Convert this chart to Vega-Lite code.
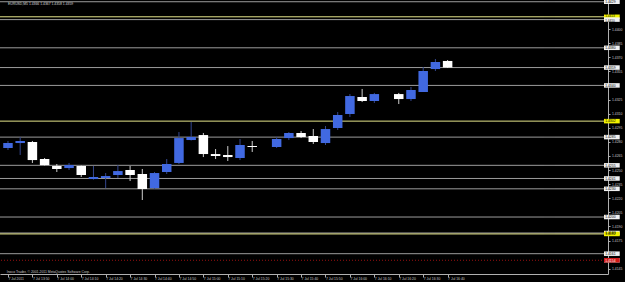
{
  "$schema": "https://vega.github.io/schema/vega-lite/v6.json",
  "width": 608,
  "height": 274,
  "autosize": "none",
  "padding": {"left": 0, "top": 0, "right": 17, "bottom": 8},
  "background": "#000000",
  "config": {"view": {"stroke": null}, "axis": {"grid": false}, "font": "Liberation Sans"},
  "resolve": {"axis": {"x": "independent", "y": "independent"}},
  "datasets": {
    "candles": [
      {"t": "2011-07-07 13:40", "o": 1.42734, "h": 1.42809, "l": 1.42713, "c": 1.42787},
      {"t": "2011-07-07 13:45", "o": 1.42787, "h": 1.42851, "l": 1.4266, "c": 1.42809},
      {"t": "2011-07-07 13:50", "o": 1.42798, "h": 1.42809, "l": 1.42575, "c": 1.42606},
      {"t": "2011-07-07 13:55", "o": 1.42617, "h": 1.42628, "l": 1.42548, "c": 1.42553},
      {"t": "2011-07-07 14:00", "o": 1.42543, "h": 1.42564, "l": 1.42479, "c": 1.42511},
      {"t": "2011-07-07 14:05", "o": 1.42521, "h": 1.42575, "l": 1.425, "c": 1.42553},
      {"t": "2011-07-07 14:10", "o": 1.42543, "h": 1.42548, "l": 1.42426, "c": 1.42447},
      {"t": "2011-07-07 14:15", "o": 1.42404, "h": 1.42543, "l": 1.42398, "c": 1.42426},
      {"t": "2011-07-07 14:20", "o": 1.42415, "h": 1.42468, "l": 1.42308, "c": 1.42436},
      {"t": "2011-07-07 14:25", "o": 1.42447, "h": 1.42553, "l": 1.42415, "c": 1.42489},
      {"t": "2011-07-07 14:30", "o": 1.425, "h": 1.42543, "l": 1.42383, "c": 1.42447},
      {"t": "2011-07-07 14:35", "o": 1.42458, "h": 1.42511, "l": 1.42181, "c": 1.42298},
      {"t": "2011-07-07 14:40", "o": 1.42308, "h": 1.42479, "l": 1.42298, "c": 1.42468},
      {"t": "2011-07-07 14:45", "o": 1.42479, "h": 1.42617, "l": 1.42458, "c": 1.42564},
      {"t": "2011-07-07 14:50", "o": 1.42575, "h": 1.42904, "l": 1.42564, "c": 1.4284},
      {"t": "2011-07-07 14:55", "o": 1.42819, "h": 1.43011, "l": 1.42814, "c": 1.42851},
      {"t": "2011-07-07 15:00", "o": 1.42872, "h": 1.42894, "l": 1.42638, "c": 1.4267},
      {"t": "2011-07-07 15:05", "o": 1.4267, "h": 1.42723, "l": 1.42617, "c": 1.42649},
      {"t": "2011-07-07 15:10", "o": 1.4266, "h": 1.42755, "l": 1.42596, "c": 1.42638},
      {"t": "2011-07-07 15:15", "o": 1.42628, "h": 1.4283, "l": 1.42606, "c": 1.42766},
      {"t": "2011-07-07 15:20", "o": 1.42755, "h": 1.42809, "l": 1.42692, "c": 1.42745},
      {"t": "2011-07-07 15:30", "o": 1.42745, "h": 1.42851, "l": 1.42734, "c": 1.4283},
      {"t": "2011-07-07 15:35", "o": 1.4284, "h": 1.42904, "l": 1.42819, "c": 1.42894},
      {"t": "2011-07-07 15:40", "o": 1.42894, "h": 1.42915, "l": 1.4284, "c": 1.42851},
      {"t": "2011-07-07 15:45", "o": 1.42862, "h": 1.42936, "l": 1.42777, "c": 1.42798},
      {"t": "2011-07-07 15:50", "o": 1.42787, "h": 1.42968, "l": 1.42766, "c": 1.42936},
      {"t": "2011-07-07 15:55", "o": 1.42947, "h": 1.43117, "l": 1.42926, "c": 1.43085},
      {"t": "2011-07-07 16:00", "o": 1.43096, "h": 1.43308, "l": 1.43064, "c": 1.43287},
      {"t": "2011-07-07 16:05", "o": 1.43277, "h": 1.43362, "l": 1.43223, "c": 1.43234},
      {"t": "2011-07-07 16:10", "o": 1.43234, "h": 1.4332, "l": 1.43213, "c": 1.43308},
      {"t": "2011-07-07 16:20", "o": 1.43308, "h": 1.4332, "l": 1.43202, "c": 1.43255},
      {"t": "2011-07-07 16:25", "o": 1.43255, "h": 1.43383, "l": 1.43234, "c": 1.43351},
      {"t": "2011-07-07 16:30", "o": 1.4333, "h": 1.43596, "l": 1.4333, "c": 1.43553},
      {"t": "2011-07-07 16:35", "o": 1.43574, "h": 1.43681, "l": 1.43553, "c": 1.43649},
      {"t": "2011-07-07 16:40", "o": 1.4366, "h": 1.4367, "l": 1.43585, "c": 1.4359}
    ],
    "levels": [
      {"price": 1.4429, "kind": "gray", "label": "1.4429"},
      {"price": 1.4413, "kind": "yellow", "label": "1.4413"},
      {"price": 1.4410, "kind": "gray", "label": "1.4410"},
      {"price": 1.4380, "kind": "gray", "label": "1.4380"},
      {"price": 1.4359, "kind": "gray", "label": "1.4359"},
      {"price": 1.4340, "kind": "gray", "label": "1.4340"},
      {"price": 1.4302, "kind": "yellow", "label": "1.4302"},
      {"price": 1.4285, "kind": "gray", "label": "1.4285"},
      {"price": 1.4255, "kind": "gray", "label": "1.4255"},
      {"price": 1.4241, "kind": "gray", "label": "1.4241"},
      {"price": 1.4230, "kind": "gray", "label": "1.4230"},
      {"price": 1.4200, "kind": "gray", "label": "1.4200"},
      {"price": 1.4183, "kind": "gray", "label": "1.4183"},
      {"price": 1.4182, "kind": "yellow", "label": "1.4182"},
      {"price": 1.4161, "kind": "gray", "label": "1.4161"},
      {"price": 1.4154, "kind": "red", "label": "1.4154"}
    ]
  },
  "layer": [
    {
      "data": {"name": "levels"},
      "mark": {"type": "rule", "strokeWidth": 1},
      "encoding": {
        "y": {"field": "price", "type": "quantitative", "axis": null},
        "color": {"field": "kind", "type": "nominal", "legend": null,
          "scale": {"domain": ["gray", "yellow", "red"], "range": ["#9c9c9c", "#e4e48a", "#9a1010"]}},
        "strokeDash": {"condition": {"test": "datum.kind == 'red'", "value": [1, 2]}, "value": [1, 0]}
      }
    },
    {
      "data": {"name": "candles"},
      "mark": {"type": "rule", "strokeWidth": 1},
      "encoding": {
        "x": {"field": "t", "type": "temporal",
          "scale": {"domain": [
            {"year": 2011, "month": 7, "date": 7, "hours": 13, "minutes": 38, "seconds": 47},
            {"year": 2011, "month": 7, "date": 7, "hours": 17, "minutes": 43, "seconds": 37}], "nice": false},
          "axis": {
            "title": null, "orient": "bottom",
            "values": [
              {"year": 2011, "month": 7, "date": 7, "hours": 13, "minutes": 40},
              {"year": 2011, "month": 7, "date": 7, "hours": 13, "minutes": 50},
              {"year": 2011, "month": 7, "date": 7, "hours": 14, "minutes": 0},
              {"year": 2011, "month": 7, "date": 7, "hours": 14, "minutes": 10},
              {"year": 2011, "month": 7, "date": 7, "hours": 14, "minutes": 20},
              {"year": 2011, "month": 7, "date": 7, "hours": 14, "minutes": 30},
              {"year": 2011, "month": 7, "date": 7, "hours": 14, "minutes": 40},
              {"year": 2011, "month": 7, "date": 7, "hours": 14, "minutes": 50},
              {"year": 2011, "month": 7, "date": 7, "hours": 15, "minutes": 0},
              {"year": 2011, "month": 7, "date": 7, "hours": 15, "minutes": 10},
              {"year": 2011, "month": 7, "date": 7, "hours": 15, "minutes": 20},
              {"year": 2011, "month": 7, "date": 7, "hours": 15, "minutes": 30},
              {"year": 2011, "month": 7, "date": 7, "hours": 15, "minutes": 40},
              {"year": 2011, "month": 7, "date": 7, "hours": 15, "minutes": 50},
              {"year": 2011, "month": 7, "date": 7, "hours": 16, "minutes": 0},
              {"year": 2011, "month": 7, "date": 7, "hours": 16, "minutes": 10},
              {"year": 2011, "month": 7, "date": 7, "hours": 16, "minutes": 20},
              {"year": 2011, "month": 7, "date": 7, "hours": 16, "minutes": 30},
              {"year": 2011, "month": 7, "date": 7, "hours": 16, "minutes": 40}
            ],
            "labelExpr": "timeFormat(datum.value, '%H:%M') == '13:40' ? '7 Jul 2011' : '7 Jul ' + timeFormat(datum.value, '%H:%M')",
            "labelAlign": "left", "labelBaseline": "top", "labelDx": 1, "labelPadding": -1,
            "labelFontSize": 3.4, "labelColor": "#c8c8c8", "labelOverlap": false, "labelBound": false, "labelFlush": false,
            "tickSize": 3, "tickColor": "#b0b0b0", "domainColor": "#b0b0b0", "domainWidth": 1
          }
        },
        "y": {"field": "l", "type": "quantitative",
          "scale": {"domain": [1.41394, 1.443085], "zero": false, "nice": false},
          "axis": {
            "title": null, "orient": "right",
            "values": [1.4145, 1.4175, 1.419, 1.4205, 1.422, 1.4235, 1.425, 1.4265, 1.428, 1.4295, 1.431, 1.4325, 1.4355, 1.437, 1.4385, 1.44],
            "format": ".4f", "labelFontSize": 3.4, "labelColor": "#c8c8c8", "labelPadding": 1.5,
            "labelOverlap": false, "labelBound": false, "labelFlush": false,
            "tickSize": 2, "tickColor": "#b0b0b0", "domainColor": "#b0b0b0", "domainWidth": 1
          }
        },
        "y2": {"field": "h"},
        "color": {"condition": {"test": "datum.c >= datum.o", "value": "#34478f"}, "value": "#cfcfcf"}
      }
    },
    {
      "data": {"name": "candles"},
      "mark": {"type": "bar", "width": 9.5},
      "encoding": {
        "x": {"field": "t", "type": "temporal", "axis": null},
        "y": {"field": "o", "type": "quantitative", "axis": null},
        "y2": {"field": "c"},
        "color": {"condition": {"test": "datum.c >= datum.o", "value": "#4169e1"}, "value": "#ffffff"}
      }
    },
    {
      "data": {"name": "levels"},
      "mark": {"type": "rule", "strokeWidth": 4.5, "strokeCap": "butt"},
      "encoding": {
        "x": {"datum": {"year": 2011, "month": 7, "date": 7, "hours": 17, "minutes": 44, "seconds": 1}, "type": "temporal", "axis": null},
        "x2": {"datum": {"year": 2011, "month": 7, "date": 7, "hours": 17, "minutes": 50, "seconds": 28}},
        "y": {"field": "price", "type": "quantitative", "axis": null},
        "color": {"field": "kind", "type": "nominal", "legend": null,
          "scale": {"domain": ["gray", "yellow", "red"], "range": ["#9c9c9c", "#e4e48a", "#9a1010"]}},
        "stroke": {"condition": {"test": "datum.kind == 'yellow'", "value": "#f2f200"},
          "value": "#f0f0f0"}
      }
    },
    {
      "data": {"name": "levels"},
      "transform": [{"filter": "datum.kind == 'red'"}],
      "mark": {"type": "rule", "strokeWidth": 4.5, "strokeCap": "butt", "color": "#d01818"},
      "encoding": {
        "x": {"datum": {"year": 2011, "month": 7, "date": 7, "hours": 17, "minutes": 44, "seconds": 1}, "type": "temporal", "axis": null},
        "x2": {"datum": {"year": 2011, "month": 7, "date": 7, "hours": 17, "minutes": 50, "seconds": 28}},
        "y": {"field": "price", "type": "quantitative", "axis": null}
      }
    },
    {
      "data": {"name": "levels"},
      "transform": [{"filter": "datum.label != '1.4413' && datum.label != '1.4410'"}],
      "mark": {"type": "text", "align": "left", "baseline": "middle", "fontSize": 3.4, "dy": 0.3},
      "encoding": {
        "x": {"datum": {"year": 2011, "month": 7, "date": 7, "hours": 17, "minutes": 44, "seconds": 30}, "type": "temporal", "axis": null},
        "y": {"field": "price", "type": "quantitative", "axis": null},
        "text": {"field": "label"},
        "color": {"condition": {"test": "datum.kind == 'red'", "value": "#ffffff"}, "value": "#000000"}
      }
    },
    {
      "data": {"name": "levels"},
      "transform": [{"filter": "datum.label == '1.4413'"}],
      "mark": {"type": "text", "align": "left", "baseline": "middle", "fontSize": 3.1, "dy": -1.3, "color": "#000000"},
      "encoding": {
        "x": {"datum": {"year": 2011, "month": 7, "date": 7, "hours": 17, "minutes": 44, "seconds": 30}, "type": "temporal", "axis": null},
        "y": {"field": "price", "type": "quantitative", "axis": null},
        "text": {"field": "label"}
      }
    },
    {
      "data": {"name": "levels"},
      "transform": [{"filter": "datum.label == '1.4410'"}],
      "mark": {"type": "text", "align": "left", "baseline": "middle", "fontSize": 3.1, "dy": 1.5, "color": "#000000"},
      "encoding": {
        "x": {"datum": {"year": 2011, "month": 7, "date": 7, "hours": 17, "minutes": 44, "seconds": 30}, "type": "temporal", "axis": null},
        "y": {"field": "price", "type": "quantitative", "axis": null},
        "text": {"field": "label"}
      }
    },
    {
      "data": {"values": [{"txt": "EURUSD,M5  1.4366 1.4367 1.4358 1.4359"}]},
      "mark": {"type": "text", "align": "left", "baseline": "middle", "fontSize": 3.4, "color": "#d8d8d8"},
      "encoding": {
        "x": {"datum": {"year": 2011, "month": 7, "date": 7, "hours": 13, "minutes": 40}, "type": "temporal", "axis": null},
        "y": {"datum": 1.44261, "type": "quantitative", "axis": null},
        "text": {"field": "txt"}
      }
    },
    {
      "data": {"values": [{"txt": "Inoco Trader, © 2001-2011 MetaQuotes Software Corp."}]},
      "mark": {"type": "text", "align": "left", "baseline": "middle", "fontSize": 3.4, "color": "#c8c8c8"},
      "encoding": {
        "x": {"datum": {"year": 2011, "month": 7, "date": 7, "hours": 13, "minutes": 39, "seconds": 30}, "type": "temporal", "axis": null},
        "y": {"datum": 1.41415, "type": "quantitative", "axis": null},
        "text": {"field": "txt"}
      }
    }
  ]
}
